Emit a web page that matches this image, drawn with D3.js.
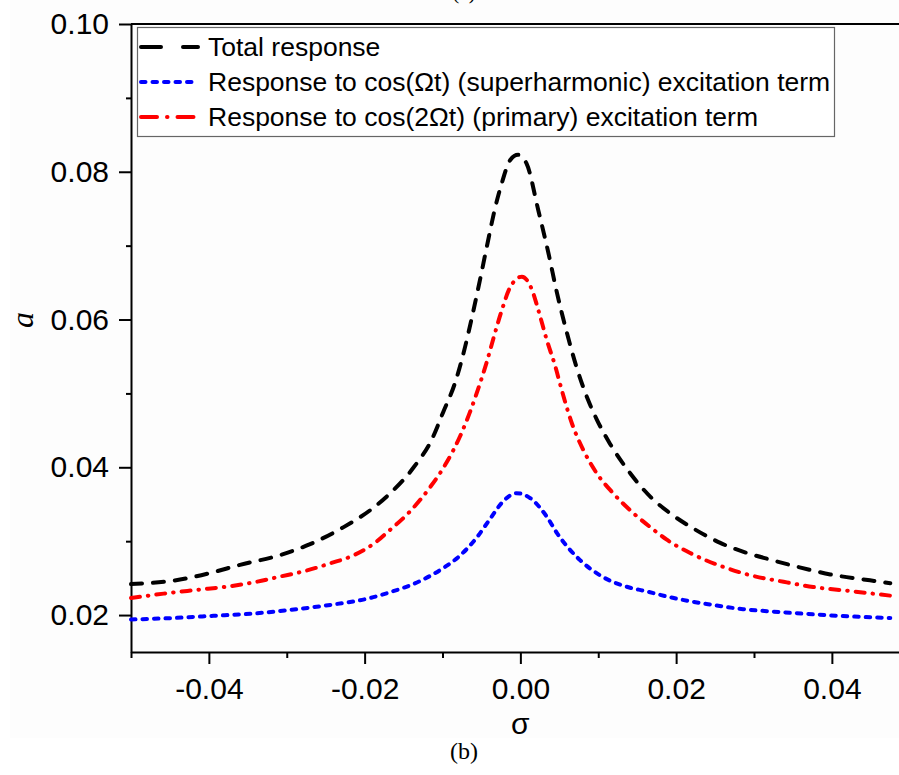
<!DOCTYPE html>
<html>
<head>
<meta charset="utf-8">
<script src="https://cdn.jsdelivr.net/npm/d3@7"></script>
<style>
  body { margin: 0; background: #fff; }
  svg { display: block; }
</style>
</head>
<body>
<svg id="chart" width="899" height="775"></svg>
<script>
// sigma values / amplitude
const totalSigma = [-0.05, -0.0437, -0.0398, -0.036, -0.0309, -0.027, -0.0227, -0.0189, -0.017, -0.0137, -0.0114, -0.0099, -0.0084, -0.0071, -0.0062, -0.0052, -0.0043, -0.0032, -0.0024, -0.0013, -0.0003, 0.0008, 0.0023, 0.0036, 0.0047, 0.006, 0.0072, 0.0087, 0.0098, 0.0115, 0.0141, 0.0168, 0.0192, 0.0224, 0.0256, 0.0291, 0.0321, 0.0357, 0.0398, 0.0449, 0.0475];
const totalA = [0.0242, 0.0248, 0.0257, 0.0268, 0.0281, 0.0296, 0.0319, 0.0345, 0.0362, 0.0400, 0.0437, 0.0475, 0.0514, 0.0563, 0.0604, 0.0653, 0.0699, 0.0753, 0.0784, 0.0816, 0.0823, 0.0811, 0.0748, 0.069, 0.0636, 0.0581, 0.0536, 0.0491, 0.0465, 0.0432, 0.0392, 0.0359, 0.0338, 0.0316, 0.0298, 0.0284, 0.0275, 0.0265, 0.0255, 0.0247, 0.0243];

const superSigma = [-0.05, -0.0446, -0.0394, -0.0343, -0.0287, -0.0236, -0.0193, -0.017, -0.0129, -0.0097, -0.0077, -0.0056, -0.0039, -0.0022, -0.0005, 0.0013, 0.0034, 0.0047, 0.0077, 0.0102, 0.0141, 0.0158, 0.0197, 0.0239, 0.0286, 0.0334, 0.0376, 0.0428, 0.0475];
const superA = [0.0194, 0.0196, 0.0199, 0.0202, 0.0208, 0.0215, 0.0223, 0.023, 0.0246, 0.0265, 0.0281, 0.0305, 0.033, 0.0354, 0.0365, 0.0358, 0.0333, 0.0311, 0.0274, 0.0254, 0.0237, 0.0233, 0.0223, 0.0215, 0.0208, 0.0204, 0.0201, 0.0198, 0.0196];

const primSigma = [-0.05, -0.0458, -0.0416, -0.0373, -0.0339, -0.0309, -0.0279, -0.0244, -0.0214, -0.0184, -0.0172, -0.0142, -0.0116, -0.0095, -0.0077, -0.0065, -0.0052, -0.0043, -0.0035, -0.0024, -0.0013, 0.0002, 0.0015, 0.0023, 0.0034, 0.0045, 0.0053, 0.0066, 0.0081, 0.0098, 0.0119, 0.0145, 0.0168, 0.0188, 0.0218, 0.0261, 0.0295, 0.0338, 0.0376, 0.0428, 0.0477];
const primA = [0.0223, 0.0229, 0.0234, 0.0239, 0.0245, 0.0252, 0.0259, 0.027, 0.0281, 0.03, 0.0311, 0.034, 0.0373, 0.0406, 0.0443, 0.0474, 0.0513, 0.0543, 0.0573, 0.0612, 0.0644, 0.0658, 0.064, 0.0613, 0.0572, 0.0536, 0.0505, 0.046, 0.0423, 0.0392, 0.0365, 0.0338, 0.0318, 0.0302, 0.0284, 0.0265, 0.0254, 0.0245, 0.0238, 0.0232, 0.0226];

const xMajor = [-0.04, -0.02, 0.00, 0.02, 0.04];
const xMinor = [-0.05, -0.03, -0.01, 0.01, 0.03];
const yMajor = [0.02, 0.04, 0.06, 0.08, 0.10];
const yMinor = [0.03, 0.05, 0.07, 0.09];

const legendLabels = [
  "Total response",
  "Response to cos(\u03A9t) (superharmonic) excitation term",
  "Response to cos(2\u03A9t) (primary) excitation term"
];

const svg = d3.select("#chart");

// slightly off-white page area of the original scan
svg.append("rect")
  .attr("x", 10).attr("y", 0)
  .attr("width", 889).attr("height", 738)
  .attr("fill", "#fdfdfd");

const x = d3.scaleLinear().domain([-0.05, 0.05]).range([131, 909.75]);
const y = d3.scaleLinear().domain([0.015, 0.10]).range([652, 24]);

// plain hyphen for the minus sign, like the original
const fmt = d => d3.format(".2f")(d).replace("\u2212", "-");
const tickFont = "'Liberation Sans', Arial, sans-serif";

// x axis: major ticks with labels, minor ticks without
const xAxisG = svg.append("g")
  .attr("transform", `translate(0, ${y(0.015)})`)
  .call(d3.axisBottom(x).tickValues(xMajor).tickSize(12).tickSizeOuter(0).tickFormat(fmt));
xAxisG.selectAll(".tick text")
  .attr("y", 26)
  .attr("dy", "0.71em")
  .attr("font-family", tickFont)
  .attr("font-size", 30)
  .attr("fill", "#000");
xAxisG.append("g")
  .call(d3.axisBottom(x).tickValues(xMinor).tickSize(6).tickFormat(""))
  .select(".domain").remove();
xAxisG.selectAll("path.domain").attr("stroke-width", 2).attr("stroke", "#000");
xAxisG.selectAll(".tick line").attr("stroke-width", 2).attr("stroke", "#000");

// y axis
const yAxisG = svg.append("g")
  .attr("transform", `translate(${x(-0.05)}, 0)`)
  .call(d3.axisLeft(y).tickValues(yMajor).tickSize(12).tickSizeOuter(0).tickFormat(fmt));
yAxisG.selectAll(".tick text")
  .attr("x", -22)
  .attr("font-family", tickFont)
  .attr("font-size", 30)
  .attr("fill", "#000");
yAxisG.append("g")
  .call(d3.axisLeft(y).tickValues(yMinor).tickSize(5).tickFormat(""))
  .select(".domain").remove();
yAxisG.selectAll("path.domain").attr("stroke-width", 2).attr("stroke", "#000");
yAxisG.selectAll(".tick line").attr("stroke-width", 2).attr("stroke", "#000");

// top frame line
svg.append("line")
  .attr("x1", x(-0.05)).attr("x2", 899)
  .attr("y1", y(0.10)).attr("y2", y(0.10))
  .attr("stroke", "#000").attr("stroke-width", 2);

// curves
const line = d3.line()
  .x(d => x(d[0]))
  .y(d => y(d[1]))
  .curve(d3.curveMonotoneX);

const series = [
  { sigma: totalSigma, a: totalA, color: "#000000", dash: "11,11" },
  { sigma: superSigma, a: superA, color: "#0000ff", dash: "4.5,7" },
  { sigma: primSigma, a: primA, color: "#ff0000", dash: "9,8,0.5,8" }
];

svg.selectAll("path.curve")
  .data(series)
  .enter()
  .append("path")
  .attr("class", "curve")
  .attr("fill", "none")
  .attr("stroke", d => d.color)
  .attr("stroke-width", 4)
  .attr("stroke-linecap", "round")
  .attr("stroke-dasharray", d => d.dash)
  .attr("d", d => line(d.sigma.map((s, i) => [s, d.a[i]])));

// legend
const legend = svg.append("g");
legend.append("rect")
  .attr("x", 137.5).attr("y", 27.5)
  .attr("width", 697).attr("height", 109)
  .attr("fill", "#fff")
  .attr("stroke", "#666")
  .attr("stroke-width", 1.2);

const rows = legend.selectAll("g.row")
  .data(series)
  .enter()
  .append("g")
  .attr("class", "row")
  .attr("transform", (d, i) => `translate(0, ${47 + i * 35})`);

rows.append("line")
  .attr("x1", 141).attr("x2", 198)
  .attr("stroke", d => d.color)
  .attr("stroke-width", 4)
  .attr("stroke-linecap", "round")
  .attr("stroke-dasharray", (d, i) => ["20,22", "4.5,7", "16,10,0.5,10"][i]);

rows.append("text")
  .attr("x", 208)
  .attr("y", 9)
  .attr("font-family", tickFont)
  .attr("font-size", 26.5)
  .attr("fill", "#000")
  .text((d, i) => legendLabels[i]);

// axis titles
svg.append("text")
  .attr("transform", "translate(33, 320) rotate(-90)")
  .attr("text-anchor", "middle")
  .attr("font-family", "'Liberation Serif', 'Times New Roman', serif")
  .attr("font-style", "italic")
  .attr("font-size", 32)
  .attr("fill", "#000")
  .text("a");

svg.append("text")
  .attr("x", x(0))
  .attr("y", 734)
  .attr("text-anchor", "middle")
  .attr("font-family", tickFont)
  .attr("font-size", 30)
  .attr("fill", "#000")
  .text("\u03C3");

svg.append("text")
  .attr("x", 464)
  .attr("y", 759)
  .attr("text-anchor", "middle")
  .attr("font-family", "'Liberation Serif', 'Times New Roman', serif")
  .attr("font-size", 24)
  .attr("fill", "#000")
  .text("(b)");

// label of the figure above, cut by the crop
svg.append("text")
  .attr("x", 464)
  .attr("y", -1)
  .attr("text-anchor", "middle")
  .attr("font-family", "'Liberation Serif', 'Times New Roman', serif")
  .attr("font-size", 21)
  .attr("fill", "#000")
  .text("(a)");
</script>
</body>
</html>
